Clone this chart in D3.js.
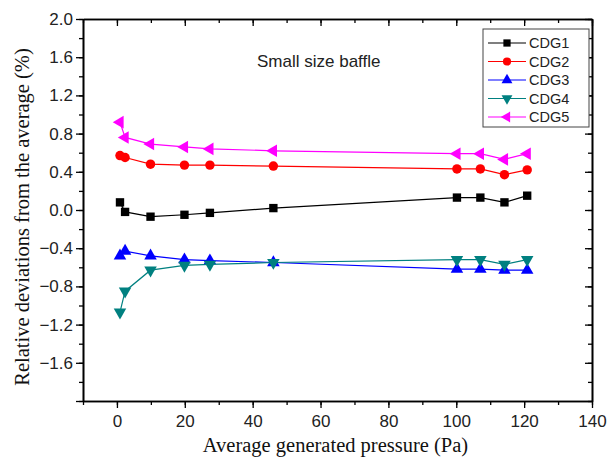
<!DOCTYPE html>
<html>
<head>
<meta charset="utf-8">
<script src="https://cdn.jsdelivr.net/npm/d3@7"></script>
<style>
    body { margin: 0; background: #fff; }
</style>
</head>
<body>
<div id="chart"></div>
<script>
// data
var pressure = [0.9, 2.4, 9.9, 19.9, 27.4, 46.1, 100.2, 107.1, 114.2, 120.9];
var cdg1 = [0.08, -0.02, -0.07, -0.05, -0.03, 0.02, 0.13, 0.13, 0.08, 0.15];
var cdg2 = [0.57, 0.55, 0.48, 0.47, 0.47, 0.46, 0.43, 0.43, 0.37, 0.42];
var cdg3 = [-0.48, -0.43, -0.48, -0.52, -0.53, -0.55, -0.62, -0.62, -0.63, -0.63];
var cdg4 = [-1.07, -0.85, -0.63, -0.58, -0.57, -0.55, -0.52, -0.52, -0.57, -0.52];
var cdg5 = [0.92, 0.76, 0.69, 0.66, 0.64, 0.62, 0.59, 0.59, 0.53, 0.59];

var seriesNames = ["CDG1", "CDG2", "CDG3", "CDG4", "CDG5"];
var xTicks = [0, 20, 40, 60, 80, 100, 120, 140];
var yTicks = [-1.6, -1.2, -0.8, -0.4, 0.0, 0.4, 0.8, 1.2, 1.6, 2.0];

var width = 609, height = 461;
var margin = { top: 19, right: 17, bottom: 60, left: 83 };

var colors = ["#000000", "#ff0000", "#0000ff", "#008080", "#ff00ff"];
var shapes = [
    { type: d3.symbolSquare, size: 70, rot: 0 },
    { type: d3.symbolCircle, size: 70, rot: 0 },
    { type: d3.symbolTriangle, size: 68, rot: 0 },
    { type: d3.symbolTriangle, size: 68, rot: 180 },
    { type: d3.symbolTriangle, size: 68, rot: -90 }
];

var series = [cdg1, cdg2, cdg3, cdg4, cdg5].map((vals, i) => ({
    name: seriesNames[i],
    points: vals.map((v, j) => ({ x: pressure[j], y: v }))
}));

var x = d3.scaleLinear()
    .domain([-10, 140])
    .range([margin.left, width - margin.right]);

var y = d3.scaleLinear()
    .domain([-2, 2])
    .range([height - margin.bottom, margin.top]);

var svg = d3.select("#chart").append("svg")
    .attr("width", width)
    .attr("height", height)
    .style("font-family", "Liberation Sans, Arial, sans-serif");

var xMinor = d3.range(-10, 141, 10);
var yMinor = d3.range(-20, 21, 2).map(d => d / 10);

function styleAxis(g) {
    g.select(".domain").attr("stroke", "#000").attr("stroke-width", 1.6);
    g.selectAll(".tick line").attr("stroke", "#000").attr("stroke-width", 1.3);
    g.selectAll(".tick text").attr("fill", "#222").style("font-size", "17px");
}

// minor ticks first, majors on top
svg.append("g")
    .attr("transform", `translate(0,${y(-2)})`)
    .call(d3.axisBottom(x).tickValues(xMinor).tickSize(4).tickSizeOuter(0).tickFormat(""))
    .call(styleAxis);
svg.append("g")
    .attr("transform", `translate(0,${y(-2)})`)
    .call(d3.axisBottom(x).tickValues(xTicks).tickSize(7).tickSizeOuter(0).tickPadding(7).tickFormat(d3.format("d")))
    .call(styleAxis);

svg.append("g")
    .attr("transform", `translate(0,${y(2)})`)
    .call(d3.axisTop(x).tickValues(xMinor).tickSize(-4).tickSizeOuter(0).tickFormat(""))
    .call(styleAxis);
svg.append("g")
    .attr("transform", `translate(0,${y(2)})`)
    .call(d3.axisTop(x).tickValues(xTicks).tickSize(-7).tickSizeOuter(0).tickFormat(""))
    .call(styleAxis);

svg.append("g")
    .attr("transform", `translate(${x(-10)},0)`)
    .call(d3.axisLeft(y).tickValues(yMinor).tickSize(4).tickSizeOuter(0).tickFormat(""))
    .call(styleAxis);
svg.append("g")
    .attr("transform", `translate(${x(-10)},0)`)
    .call(d3.axisLeft(y).tickValues(yTicks.concat([-2])).tickSize(7).tickSizeOuter(0).tickPadding(3)
        .tickFormat(d => d === -2 ? "" : d3.format(".1f")(d)))
    .call(styleAxis);

svg.append("g")
    .attr("transform", `translate(${x(140)},0)`)
    .call(d3.axisRight(y).tickValues(yMinor).tickSize(-4).tickSizeOuter(0).tickFormat(""))
    .call(styleAxis);
svg.append("g")
    .attr("transform", `translate(${x(140)},0)`)
    .call(d3.axisRight(y).tickValues(yTicks).tickSize(-7).tickSizeOuter(0).tickFormat(""))
    .call(styleAxis);

// axis titles
svg.append("text")
    .attr("x", (x(-10) + x(140)) / 2 - 2)
    .attr("y", 452)
    .attr("text-anchor", "middle")
    .style("font-family", "Liberation Serif, Times New Roman, serif")
    .style("font-size", "20.5px")
    .attr("fill", "#111")
    .text("Average generated pressure (Pa)");

svg.append("text")
    .attr("transform", `translate(29,${(y(-2) + y(2)) / 2 + 7}) rotate(-90)`)
    .attr("text-anchor", "middle")
    .style("font-family", "Liberation Serif, Times New Roman, serif")
    .style("font-size", "20.5px")
    .attr("fill", "#111")
    .text("Relative deviations from the average (%)");

svg.append("text")
    .attr("x", 257)
    .attr("y", 67)
    .style("font-size", "17px")
    .attr("fill", "#222")
    .text("Small size baffle");

// lines and markers
var line = d3.line()
    .x(d => x(d.x))
    .y(d => y(d.y));

series.forEach(function (s, i) {
    var g = svg.append("g");
    g.append("path")
        .datum(s.points)
        .attr("fill", "none")
        .attr("stroke", colors[i])
        .attr("stroke-width", 1.2)
        .attr("d", line);

    g.selectAll("path.mark")
        .data(s.points)
        .enter()
        .append("path")
        .attr("class", "mark")
        .attr("d", d3.symbol().type(shapes[i].type).size(shapes[i].size))
        .attr("transform", d => `translate(${x(d.x)},${y(d.y)}) rotate(${shapes[i].rot})`)
        .attr("fill", colors[i]);
});

// legend
var legend = svg.append("g");
legend.append("rect")
    .attr("x", 483)
    .attr("y", 29)
    .attr("width", 106)
    .attr("height", 98)
    .attr("fill", "#fff")
    .attr("stroke", "#444")
    .attr("stroke-width", 1);

series.forEach(function (s, i) {
    var ly = 43 + i * 18.5;
    legend.append("line")
        .attr("x1", 488).attr("x2", 526)
        .attr("y1", ly).attr("y2", ly)
        .attr("stroke", colors[i])
        .attr("stroke-width", 1.2);
    legend.append("path")
        .attr("d", d3.symbol().type(shapes[i].type).size(shapes[i].size * 0.75))
        .attr("transform", `translate(507,${ly}) rotate(${shapes[i].rot})`)
        .attr("fill", colors[i]);
    legend.append("text")
        .attr("x", 529)
        .attr("y", ly + 5)
        .style("font-size", "14.5px")
        .attr("fill", "#222")
        .text(s.name);
});
</script>
</body>
</html>
